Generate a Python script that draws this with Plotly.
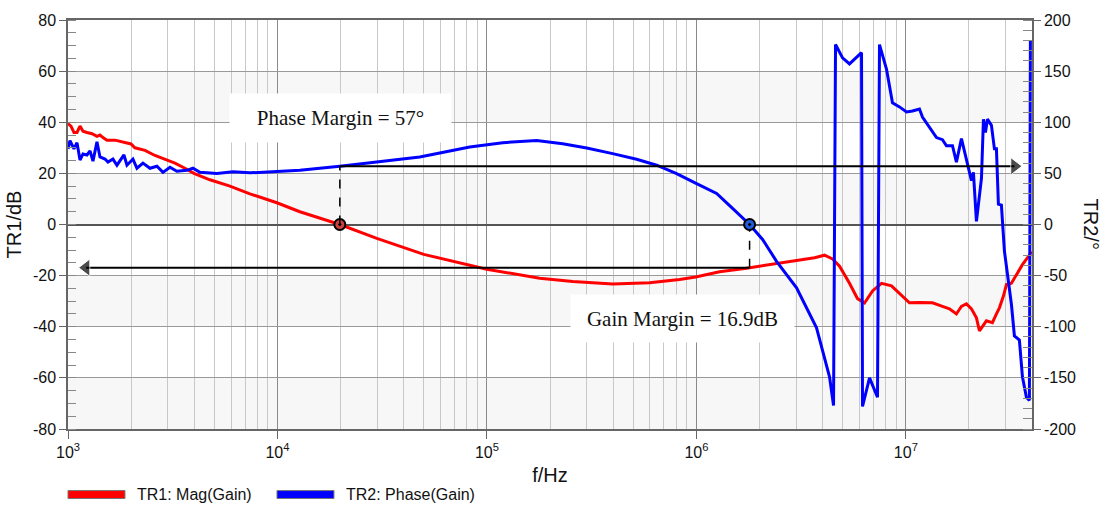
import plotly.graph_objects as go

# ---------------- data ----------------
mag_freq = [1000, 1033, 1068, 1104, 1141, 1179, 1232, 1302, 1375, 1421, 1469, 1535, 1676, 1870,
            1998, 2088, 2331, 2601, 2903, 3240, 3616, 3993, 4759, 5930, 7386, 9933, 12790, 15930,
            19850, 29800, 49940, 99770, 178600, 256700, 398300, 598000, 831200, 991300, 1.29e6,
            1.736e6, 2.235e6, 2.941e6, 3.664e6, 4.089e6, 4.465e6, 4.823e6, 5.381e6, 5.876e6,
            6.346e6, 6.93e6, 7.648e6, 8.537e6, 9.322e6, 1.04e7, 1.161e7, 1.339e7, 1.495e7,
            1.614e7, 1.743e7, 1.842e7, 1.946e7, 2.056e7, 2.172e7, 2.245e7, 2.424e7, 2.589e7,
            2.706e7, 2.796e7, 2.922e7, 3.02e7, 3.19e7, 3.371e7, 3.601e7, 3.888e7, 3.974e7]
mag_db = [39.5, 38.5, 36, 36, 38.5, 36.5, 36, 35.5, 34.5, 35, 34, 33, 33, 32,
          31.5, 30, 29, 27, 25.5, 24, 22, 20, 17.5, 15, 12, 8.5, 5, 2.5,
          0, -5.4, -11.7, -17.5, -21, -22.3, -23.3, -22.8, -21.5, -20.5, -18.5,
          -17.1, -15.8, -14.4, -13, -12, -13.5, -16.3, -23, -29,
          -30.7, -26, -23, -24, -27, -30.6, -30.5, -30.6, -32,
          -33, -35, -32, -31, -33, -36.5, -41.6, -37.7, -38.4,
          -35, -32.6, -28, -23.5, -23, -19.5, -15.7, -12, -10.5]

phase_freq = [1000, 1022, 1068, 1104, 1141, 1179, 1232, 1274, 1316, 1375, 1421, 1502, 1552, 1639,
              1713, 1771, 1850, 1912, 2042, 2134, 2279, 2462, 2658, 2840, 3066, 3311, 3696, 3948,
              4265, 5139, 6128, 7386, 8899, 10610, 12790, 19850, 29800, 47790, 59540, 82780,
              118990, 172800, 229900, 299500, 398300, 518300, 645900, 804300, 1.002e6,
              1.249e6, 1.488e6, 1.794e6, 2.07e6, 2.413e6,
              3.007e6, 3.745e6, 4.32e6, 4.515e6, 4.615e6, 4.984e6, 5.381e6, 5.812e6, 6.141e6,
              6.209e6, 6.706e6, 7.32e6, 7.482e6, 8.08e6, 8.63e6, 9.322e6, 1.007e7, 1.075e7,
              1.161e7, 1.2e7, 1.296e7, 1.4e7, 1.495e7, 1.562e7, 1.669e7, 1.743e7, 1.842e7,
              1.946e7, 2.056e7, 2.101e7, 2.172e7, 2.295e7, 2.346e7, 2.398e7, 2.451e7, 2.561e7,
              2.647e7, 2.706e7, 2.765e7, 2.858e7, 2.954e7, 3.19e7, 3.297e7, 3.483e7, 3.601e7,
              3.762e7, 3.888e7, 3.93e7]
phase_deg = [74, 82, 74, 80, 63, 69, 68, 72, 62, 81, 66, 64, 61, 64,
             58, 62, 68, 58, 64, 55, 60, 55, 57, 51, 56, 52, 53, 55,
             51, 50, 51.5, 50.5, 51.5, 52, 53, 57, 61, 66, 70, 75.7,
             80, 82.2, 79, 74.8, 69.3, 63.8, 58, 49.8, 40,
             30.4, 15.8, 0, -14.6, -36,
             -62, -101, -149, -177, 176, 163, 157, 163, 168,
             -178, -150, -169, 176, 152, 119, 115, 110, 111,
             113, 105, 95, 85, 83, 77, 77, 61, 84,
             64, 43, 51, 3, 45, 103, 90, 103, 97,
             74, 74, 20, 19, -26, -78, -109, -113, -149,
             -169, -172, 180]

# margins
pm_freq, pm_phase = 19850, 57
gm_freq, gm_db = 1.794e6, -16.9
pm_arrow_end = 3.3e7
gm_arrow_end = 1.22e3

# axis ticks
x_tickvals = [1e3, 1e4, 1e5, 1e6, 1e7]
x_ticktext = ["10<sup>3</sup>", "10<sup>4</sup>", "10<sup>5</sup>", "10<sup>6</sup>", "10<sup>7</sup>"]
y1_tickvals = [80, 60, 40, 20, 0, -20, -40, -60, -80]
y1_ticktext = ["80", "60", "40", "20", "0", "-20", "-40", "-60", "-80"]
y2_tickvals = [200, 150, 100, 50, 0, -50, -100, -150, -200]
y2_ticktext = ["200", "150", "100", "50", "0", "-50", "-100", "-150", "-200"]
band_ranges = [(40, 60), (0, 20), (-40, -20), (-80, -60)]

FONT = "Liberation Sans, Arial, sans-serif"
SERIF = "Liberation Serif, Times New Roman, serif"

minor_x = [k * 10 ** d for d in range(3, 8) for k in range(2, 10) if k * 10 ** d <= 4e7]

fig = go.Figure()

# magnitude and phase traces
fig.add_trace(go.Scatter(x=mag_freq, y=mag_db, mode="lines", line=dict(color="#ff0000", width=3),
                         name="TR1: Mag(Gain)", yaxis="y", showlegend=False))
fig.add_trace(go.Scatter(x=phase_freq, y=phase_deg, mode="lines", line=dict(color="#0000ff", width=3),
                         name="TR2: Phase(Gain)", yaxis="y2", showlegend=False))

# phase margin arrow (on phase axis)
fig.add_trace(go.Scatter(x=[pm_freq, pm_arrow_end], y=[pm_phase, pm_phase], yaxis="y2", mode="lines+markers",
                         line=dict(color="black", width=2),
                         marker=dict(symbol="triangle-right", size=[0, 15], color="black"),
                         showlegend=False, hoverinfo="skip"))
fig.add_trace(go.Scatter(x=[pm_freq, pm_freq], y=[0, pm_phase], yaxis="y2", mode="lines",
                         line=dict(color="black", width=1.5, dash="dash"), showlegend=False, hoverinfo="skip"))
# gain margin arrow (on magnitude axis)
fig.add_trace(go.Scatter(x=[gm_freq, gm_arrow_end], y=[gm_db, gm_db], yaxis="y", mode="lines+markers",
                         line=dict(color="black", width=2),
                         marker=dict(symbol="triangle-left", size=[0, 15], color="black"),
                         showlegend=False, hoverinfo="skip"))
fig.add_trace(go.Scatter(x=[gm_freq, gm_freq], y=[gm_db, 0], yaxis="y", mode="lines",
                         line=dict(color="black", width=1.5, dash="dash"), showlegend=False, hoverinfo="skip"))
# crossover markers
fig.add_trace(go.Scatter(x=[pm_freq], y=[0], yaxis="y", mode="markers",
                         marker=dict(symbol="circle-dot", size=11, color="#d04040",
                                     line=dict(color="black", width=2)),
                         showlegend=False, hoverinfo="skip"))
fig.add_trace(go.Scatter(x=[gm_freq], y=[0], yaxis="y2", mode="markers",
                         marker=dict(symbol="circle-dot", size=11, color="#2060e0",
                                     line=dict(color="black", width=2)),
                         showlegend=False, hoverinfo="skip"))

shapes = []
for lo, hi in band_ranges:
    shapes.append(dict(type="rect", xref="paper", yref="y", x0=0, x1=1, y0=lo, y1=hi,
                       fillcolor="#f7f7f7", line=dict(width=0), layer="below"))
# legend swatches
shapes.append(dict(type="rect", xref="paper", yref="paper", x0=0.0, x1=0.0591, y0=-0.1699, y1=-0.1505,
                   fillcolor="#ff0000", line=dict(color="#777777", width=1)))
shapes.append(dict(type="rect", xref="paper", yref="paper", x0=0.2168, x1=0.2759, y0=-0.1699, y1=-0.1505,
                   fillcolor="#0000ff", line=dict(color="#777777", width=1)))

annotations = [
    dict(text="Phase Margin = 57°", xref="paper", yref="paper", x=0.2827, y=0.7597,
         showarrow=False, font=dict(family=SERIF, size=21, color="#111"),
         bgcolor="white", width=219, height=46, xanchor="center", yanchor="middle"),
    dict(text="Gain Margin = 16.9dB", xref="paper", yref="paper", x=0.6375, y=0.2706,
         showarrow=False, font=dict(family=SERIF, size=21, color="#111"),
         bgcolor="white", width=221, height=45, xanchor="center", yanchor="middle"),
    dict(text="TR2/°", xref="paper", yref="paper", x=1.0622, y=0.5, textangle=90,
         showarrow=False, font=dict(family=FONT, size=20, color="#111"),
         xanchor="center", yanchor="middle"),
    dict(text="TR1: Mag(Gain)", xref="paper", yref="paper", x=0.0695, y=-0.160,
         showarrow=False, font=dict(family=FONT, size=16, color="#111"), xanchor="left", yanchor="middle"),
    dict(text="TR2: Phase(Gain)", xref="paper", yref="paper", x=0.2863, y=-0.160,
         showarrow=False, font=dict(family=FONT, size=16, color="#111"), xanchor="left", yanchor="middle"),
]

fig.update_layout(
    width=1106, height=505,
    margin=dict(l=68, r=74, t=17, b=76),
    paper_bgcolor="white", plot_bgcolor="white",
    font=dict(family=FONT, size=16, color="#111"),
    shapes=shapes, annotations=annotations,
    showlegend=False,
    xaxis=dict(type="log", range=[3, 7.6021], tickvals=x_tickvals, ticktext=x_ticktext,
               ticks="outside", ticklen=8, tickcolor="#666",
               showgrid=True, gridcolor="#8a8a8a", gridwidth=1,
               minor=dict(tickvals=minor_x, showgrid=True, gridcolor="#c8c8c8", ticks=""),
               showline=True, linecolor="#666", linewidth=1.5, mirror=True,
               title=dict(text="f/Hz", font=dict(size=20), standoff=8),
               tickfont=dict(size=16), zeroline=False),
    yaxis=dict(range=[-80, 80], tickvals=y1_tickvals, ticktext=y1_ticktext,
               ticks="outside", ticklen=7, tickcolor="#666",
               showgrid=True, gridcolor="#999", gridwidth=1,
               zeroline=True, zerolinecolor="#555", zerolinewidth=1.5,
               minor=dict(dtick=5, ticks="inside", ticklen=8, tickcolor="#888", showgrid=False),
               showline=True, linecolor="#666", linewidth=1.5,
               title=dict(text="TR1/dB", font=dict(size=20), standoff=6),
               tickfont=dict(size=16)),
    yaxis2=dict(range=[-200, 200], overlaying="y", side="right", tickvals=y2_tickvals, ticktext=y2_ticktext,
                ticks="outside", ticklen=7, tickcolor="#666",
                showgrid=False, zeroline=False,
                minor=dict(dtick=10, ticks="inside", ticklen=9, tickcolor="#888", showgrid=False),
                showline=True, linecolor="#666", linewidth=1.5,
                tickfont=dict(size=16)),
)

fig.write_html("out.html", config={"displayModeBar": False},
               post_script="document.body.style.margin='0';document.body.style.overflow='hidden';")
